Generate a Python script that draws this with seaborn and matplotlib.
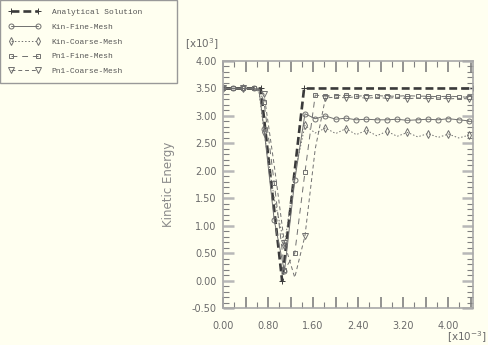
import numpy as np
import pandas as pd
import matplotlib
matplotlib.use("Agg")
import matplotlib.pyplot as plt
from matplotlib.lines import Line2D
from matplotlib.ticker import MultipleLocator, FuncFormatter
import seaborn as sns

# ---------------- data (x in units of 1e-3, y in units of 1e3) ----------------
x_analytical = [0.00, 0.67, 1.05, 1.44, 4.44]
y_analytical = [3.50, 3.50, 0.00, 3.50, 3.50]

x_grid = [0.000, 0.182, 0.364, 0.546, 0.640, 0.728, 0.910, 1.092, 1.274, 1.456,
          1.638, 1.820, 2.002, 2.184, 2.366, 2.548, 2.730, 2.912, 3.094, 3.276,
          3.458, 3.640, 3.822, 4.004, 4.186, 4.368]

y_kin_fine = [3.50, 3.50, 3.50, 3.50, 3.46, 2.77, 1.10, 0.17, 1.83, 3.04,
              2.95, 3.00, 2.94, 2.96, 2.93, 2.94, 2.93, 2.93, 2.94, 2.92,
              2.93, 2.94, 2.93, 2.95, 2.93, 2.91]
y_kin_coarse = [3.50, 3.50, 3.50, 3.50, 3.44, 2.71, 1.50, 0.65, 1.95, 2.83,
                2.69, 2.78, 2.68, 2.77, 2.66, 2.74, 2.64, 2.72, 2.63, 2.70,
                2.62, 2.68, 2.61, 2.67, 2.60, 2.65]
y_pn1_fine = [3.50, 3.50, 3.50, 3.50, 3.48, 3.26, 1.78, 0.20, 0.50, 1.98,
              3.38, 3.36, 3.37, 3.38, 3.36, 3.37, 3.37, 3.36, 3.36, 3.37,
              3.36, 3.36, 3.35, 3.36, 3.35, 3.34]
y_pn1_coarse = [3.50, 3.50, 3.50, 3.50, 3.49, 3.40, 2.10, 0.68, 0.06, 0.82,
                2.40, 3.33, 3.34, 3.33, 3.35, 3.32, 3.34, 3.32, 3.34, 3.31,
                3.33, 3.31, 3.33, 3.31, 3.32, 3.31]

labels = ["Analytical Solution", "Kin-Fine-Mesh", "Kin-Coarse-Mesh",
          "Pn1-Fine-Mesh", "Pn1-Coarse-Mesh"]

# ---------------- style ----------------
BG = "#fffff0"
sns.set_theme(style="ticks")
plt.rcParams["font.family"] = ["DejaVu Sans"]
plt.rcParams["axes.unicode_minus"] = False

fig = plt.figure(figsize=(4.89, 3.45), dpi=100, facecolor=BG)
ax = fig.add_axes([223 / 489, 1 - 308.3 / 345, 250 / 489, 247.3 / 345])
ax.set_facecolor(BG)

xg = np.array(x_grid)
fine_idx = [i for i, v in enumerate(xg) if np.isclose(v / 0.182, round(v / 0.182), atol=0.02)]
coarse_idx = [i for i, v in enumerate(xg) if np.isclose(v / 0.364, round(v / 0.364), atol=0.02)]

dark = "#3a3a3a"
grey = "#707070"

styles = [
    dict(color=dark, lw=1.9, ls=(0, (3.0, 1.5)), marker="+", ms=4.5, every=None),
    dict(color=grey, lw=0.7, ls="-", marker="o", ms=3.6, every=fine_idx),
    dict(color=grey, lw=0.7, ls=(0, (1.5, 2.0)), marker="d", ms=4.2, every=coarse_idx),
    dict(color=grey, lw=0.7, ls=(0, (6.0, 5.0)), marker="s", ms=3.4, every=fine_idx),
    dict(color=grey, lw=0.7, ls=(0, (4.0, 3.0)), marker="v", ms=3.8, every=coarse_idx),
]
series = [
    (x_analytical, y_analytical),
    (x_grid, y_kin_fine),
    (x_grid, y_kin_coarse),
    (x_grid, y_pn1_fine),
    (x_grid, y_pn1_coarse),
]

for (xs, ys), st in zip(series, styles):
    df = pd.DataFrame({"x": xs, "y": ys})
    kw = dict(color=st["color"], linewidth=st["lw"], linestyle=st["ls"],
              marker=st["marker"], markersize=st["ms"],
              markerfacecolor="none", markeredgecolor=st["color"],
              markeredgewidth=0.7)
    if st["every"] is not None:
        kw["markevery"] = st["every"]
    sns.lineplot(data=df, x="x", y="y", ax=ax, estimator=None, sort=False,
                 legend=False, **kw)

ax.set_xlim(0, 4.44)
ax.set_ylim(-0.5, 4.0)
ax.set_xlabel("")
ax.set_ylabel("Kinetic Energy", fontsize=8.5, color="#8a8a8a")
ax.yaxis.set_label_coords(-0.19, 0.5)

# ticks
ax.xaxis.set_major_locator(MultipleLocator(0.4))
ax.xaxis.set_minor_locator(MultipleLocator(0.2))
ax.yaxis.set_major_locator(MultipleLocator(0.5))
ax.yaxis.set_minor_locator(MultipleLocator(0.1))


def xfmt(v, pos):
    k = int(round(v / 0.4))
    return f"{v:.2f}" if k % 2 == 0 else ""


ax.xaxis.set_major_formatter(FuncFormatter(xfmt))
ax.yaxis.set_major_formatter(FuncFormatter(lambda v, p: f"{v:.2f}"))

ax.tick_params(which="both", direction="in", top=True, right=True,
               colors="#808080", labelcolor="#6a6a6a", labelsize=7)
ax.tick_params(which="major", length=8, width=1.2)
ax.tick_params(which="minor", length=4, width=0.8)
ax.tick_params(axis="y", which="major", color="#b8b8b8", width=1.8, pad=4.5)
ax.tick_params(axis="x", which="major", pad=9)
for sp in ax.spines.values():
    sp.set_color("#a8a8a8")
    sp.set_linewidth(1.2)

# multipliers
fig.text(185 / 489, 1 - 44 / 345, r"[x10$^3$]", fontsize=7.5, color="#6a6a6a",
         ha="left", va="center")
fig.text(487 / 489, 1 - 337 / 345, r"[x10$^{-3}$]", fontsize=7.5, color="#6a6a6a",
         ha="right", va="center")

# legend (proxy handles matching the line styles)
handles = []
for st in styles:
    handles.append(Line2D([], [], color=st["color"], linewidth=st["lw"],
                          linestyle=st["ls"], marker=st["marker"],
                          markersize=st["ms"], markerfacecolor="none",
                          markeredgecolor=st["color"], markeredgewidth=0.7))
leg = fig.legend(handles, labels, loc="upper left",
                 bbox_to_anchor=(0, 1 - 80 / 345, 177 / 489, 80 / 345),
                 mode="expand", borderaxespad=0, numpoints=2,
                 prop={"family": "Liberation Mono", "size": 5.7},
                 labelcolor="#555555", handlelength=4.0, handletextpad=1.5,
                 borderpad=1.05, labelspacing=0.92, fancybox=False,
                 framealpha=1, facecolor=BG, edgecolor="#999999")
leg.get_frame().set_linewidth(1.0)

fig.savefig("out.png", dpi=100, facecolor=BG)
